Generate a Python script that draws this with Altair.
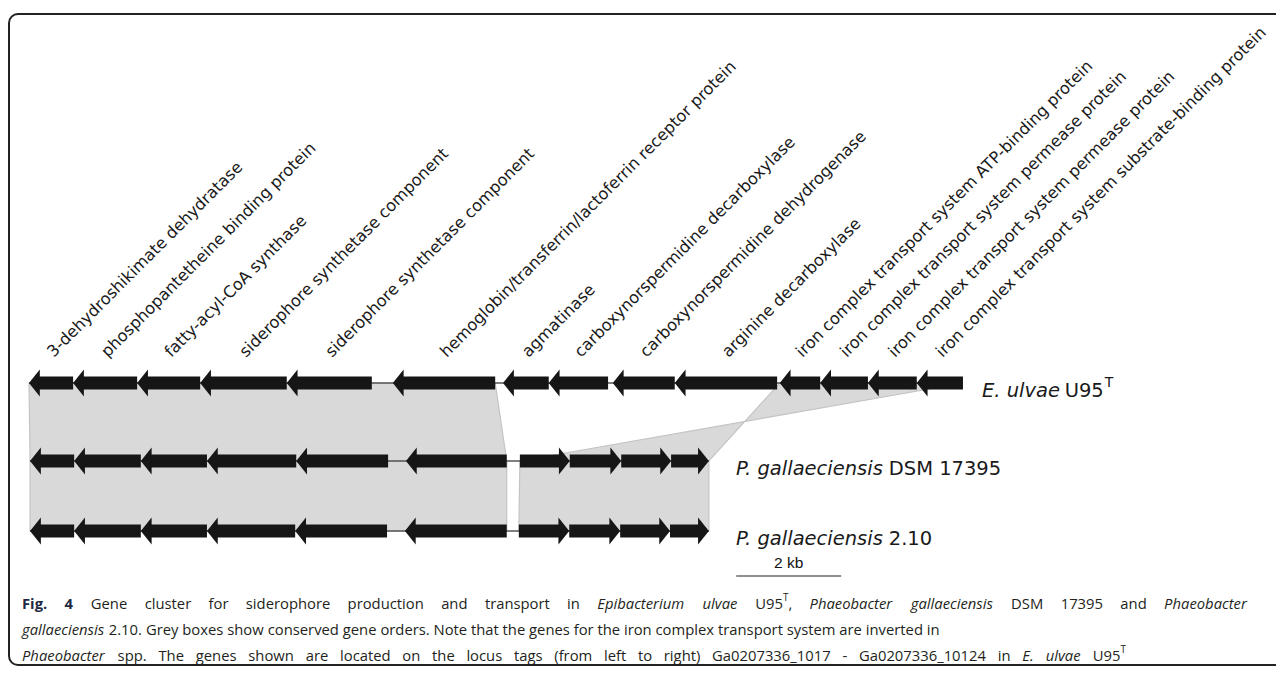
import altair as alt
import pandas as pd

# ---------------- data (kb) ----------------
gene_names = [
    "3-dehydroshikimate dehydratase",
    "phosphopantetheine binding protein",
    "fatty-acyl-CoA synthase",
    "siderophore synthetase component",
    "siderophore synthetase component",
    "hemoglobin/transferrin/lactoferrin receptor protein",
    "agmatinase",
    "carboxynorspermidine decarboxylase",
    "carboxynorspermidine dehydrogenase",
    "arginine decarboxylase",
    "iron complex transport system ATP-binding protein",
    "iron complex transport system permease protein",
    "iron complex transport system permease protein",
    "iron complex transport system substrate-binding protein",
]
r1_start = [0.00, 0.84, 2.06, 3.26, 4.91, 6.93, 9.03, 9.90, 11.12, 12.30, 14.30, 15.07, 15.98, 16.91]
r1_end = [0.84, 2.06, 3.26, 4.91, 6.53, 8.88, 9.90, 11.03, 12.30, 14.25, 15.07, 15.98, 16.91, 17.79]
r1_strand = ["-"] * 14
r2_start = [0.02, 0.86, 2.13, 3.39, 5.09, 7.18, 9.35, 10.30, 11.28, 12.23]
r2_end = [0.86, 2.13, 3.39, 5.09, 6.84, 9.10, 10.30, 11.28, 12.23, 12.95]
r2_strand = ["-"] * 6 + ["+"] * 4
r3_start = [0.02, 0.86, 2.13, 3.39, 5.07, 7.16, 9.33, 10.29, 11.26, 12.21]
r3_end = [0.86, 2.13, 3.39, 5.07, 6.82, 9.10, 10.29, 11.26, 12.21, 12.95]
r3_strand = ["-"] * 6 + ["+"] * 4

# conserved blocks: (band, track, from, to)
band_ids = ["A", "A", "B", "B", "C", "C", "D", "D"]
band_track = [0, 1, 0, 1, 1, 2, 1, 2]
band_from = [0.00, 0.02, 14.30, 12.95, 0.02, 0.02, 9.35, 9.33]
band_to = [8.88, 9.10, 17.79, 9.35, 9.10, 9.10, 12.95, 12.95]

scalebar_start = 13.47
scalebar_len = 2.0

# ---------------- layout ----------------
W, H = 1268, 658
track_y = [375, 453, 523]
px_per_kb = 52.5
x0_px = 21
xdom = [-x0_px / px_per_kb, (W - x0_px) / px_per_kb]
xs = alt.Scale(domain=xdom, nice=False, zero=False)
ys = alt.Scale(domain=[H, 0], nice=False, zero=False)

rows = []
for t, (st, en, sd) in enumerate([(r1_start, r1_end, r1_strand),
                                  (r2_start, r2_end, r2_strand),
                                  (r3_start, r3_end, r3_strand)]):
    for i, (a, b, s) in enumerate(zip(st, en, sd)):
        rows.append(dict(track=t, idx=i, start=a, end=b, strand=s, y=track_y[t]))
genes = pd.DataFrame(rows)
head = 0.15
genes["tip"] = genes.apply(lambda r: r.start if r.strand == "-" else r.end, axis=1)
genes["b0"] = genes.apply(lambda r: r.start + head if r.strand == "-" else r.start, axis=1)
genes["b1"] = genes.apply(lambda r: r.end if r.strand == "-" else r.end - head, axis=1)

lines = genes.groupby("track").agg(x=("start", "min"), x2=("end", "max"), y=("y", "first")).reset_index()

# band polygons (quadrilaterals, one per band)
poly = []
for b in sorted(set(band_ids)):
    pts = [(t, f, e) for bi, t, f, e in zip(band_ids, band_track, band_from, band_to) if bi == b]
    (t1, f1, e1), (t2, f2, e2) = pts
    seq = [(f1, track_y[t1]), (e1, track_y[t1]), (e2, track_y[t2]), (f2, track_y[t2]), (f1, track_y[t1])]
    for k, (px, py) in enumerate(seq):
        poly.append(dict(band=b, k=k, x=px, y=py))
poly = pd.DataFrame(poly)

lab = genes[genes.track == 0].copy()
lab["name"] = gene_names
lab["lx"] = (lab["start"] + lab["end"]) / 2 + 0.05
lab["ly"] = track_y[0] - 25

GENE_COL = "#161616"

frame = alt.Chart(pd.DataFrame({"a": [0]})).mark_rect(
    fillOpacity=0, stroke="#222222", strokeWidth=2, cornerRadius=9
).encode(x=alt.value(1), x2=alt.value(1320), y=alt.value(6), y2=alt.value(657))

band_layer = alt.Chart(poly).mark_line(
    fill="#d9d9d9", stroke="#c4c4c4", strokeWidth=1.2, interpolate="linear-closed"
).encode(
    x=alt.X("x:Q", scale=xs, axis=None),
    y=alt.Y("y:Q", scale=ys, axis=None),
    detail="band:N",
    order=alt.Order("k:Q"),
)

line_layer = alt.Chart(lines).mark_rule(color="#555555", strokeWidth=1.3).encode(
    x=alt.X("x:Q", scale=xs, axis=None), x2="x2:Q", y=alt.Y("y:Q", scale=ys, axis=None)
)

body_layer = alt.Chart(genes).mark_rule(color=GENE_COL, strokeWidth=13, strokeCap="butt").encode(
    x=alt.X("b0:Q", scale=xs, axis=None), x2="b1:Q", y=alt.Y("y:Q", scale=ys, axis=None)
)

left_head = alt.Chart(genes[genes.strand == "-"]).mark_point(
    shape="M0,0L0.8,-1L0.8,1Z", size=729, filled=True, fill=GENE_COL, opacity=1, strokeWidth=0
).encode(x=alt.X("tip:Q", scale=xs, axis=None), y=alt.Y("y:Q", scale=ys, axis=None))

right_head = alt.Chart(genes[genes.strand == "+"]).mark_point(
    shape="M0,0L-0.8,-1L-0.8,1Z", size=729, filled=True, fill=GENE_COL, opacity=1, strokeWidth=0
).encode(x=alt.X("tip:Q", scale=xs, axis=None), y=alt.Y("y:Q", scale=ys, axis=None))

label_layer = alt.Chart(lab).mark_text(
    angle=315, align="left", baseline="alphabetic", font="DejaVu Sans", fontSize=16.2, color="#1a1a1a"
).encode(x=alt.X("lx:Q", scale=xs, axis=None), y=alt.Y("ly:Q", scale=ys, axis=None), text="name:N")

# scale bar
sb = pd.DataFrame(dict(x=[scalebar_start], x2=[scalebar_start + scalebar_len],
                       xm=[scalebar_start + scalebar_len / 2], y=[568], ty=[560], t=["2 kb"]))
sb_rule = alt.Chart(sb).mark_rule(color="#222222", strokeWidth=1.2).encode(
    x=alt.X("x:Q", scale=xs, axis=None), x2="x2:Q", y=alt.Y("y:Q", scale=ys, axis=None))
sb_text = alt.Chart(sb).mark_text(font="Liberation Sans", fontSize=15.5, color="#111111", baseline="alphabetic").encode(
    x=alt.X("xm:Q", scale=xs, axis=None), y=alt.Y("ty:Q", scale=ys, axis=None), text="t:N")

# ---------------- text runs ----------------
# approximate advance widths (em) for Open Sans / DejaVu Sans
OS = {" ": .26, "a": .556, "b": .613, "c": .48, "d": .613, "e": .561, "f": .336, "g": .546, "h": .614,
      "i": .252, "j": .252, "k": .529, "l": .252, "m": .931, "n": .614, "o": .6, "p": .613, "q": .613,
      "r": .408, "s": .477, "t": .353, "u": .614, "v": .5, "w": .786, "x": .523, "y": .5, "z": .468,
      "A": .633, "B": .648, "C": .631, "D": .729, "E": .556, "F": .516, "G": .728, "H": .738, "I": .279,
      "J": .267, "K": .614, "L": .519, "M": .903, "N": .754, "O": .779, "P": .602, "Q": .779, "R": .618,
      "S": .549, "T": .553, "U": .728, "V": .592, "W": .934, "X": .577, "Y": .56, "Z": .571,
      ".": .266, ",": .25, "-": .322, "_": .442, "(": .296, ")": .296, "/": .371}
DV = {" ": .318, "a": .613, "c": .55, "e": .615, "g": .635, "i": .278, "l": .278, "n": .634, "s": .521,
      "u": .634, "v": .592, "E": .632, "P": .603, "U": .732, "D": .77, "S": .635, "M": .863, "T": .611,
      ".": .318}


def w_os(s, size, fac=1.0):
    return sum(OS.get(ch, .572) for ch in s) * size * fac


def w_dv(s, size):
    return sum(DV.get(ch, .636) for ch in s) * size


CAP = 14.8
style_fac = {"b": 1.07, "c": 1.0, "ci": 0.96, "csup": 1.0}
style_size = {"b": CAP, "c": CAP, "ci": CAP, "csup": 10}

cap_lines = [
    [("Fig.", "b", 0), ("4", "b", 1), ("Gene cluster for siderophore production and transport in", "c", 1),
     ("Epibacterium ulvae", "ci", 1), ("U95", "c", 1), ("T", "csup", 0), (",", "c", 0),
     ("Phaeobacter gallaeciensis", "ci", 1), ("DSM 17395 and", "c", 1), ("Phaeobacter", "ci", 1)],
    [("gallaeciensis", "ci", 0),
     ("2.10. Grey boxes show conserved gene orders. Note that the genes for the iron complex transport system are inverted in", "c", 1)],
    [("Phaeobacter", "ci", 0),
     ("spp. The genes shown are located on the locus tags (from left to right) Ga0207336_1017 - Ga0207336_10124 in", "c", 1),
     ("E. ulvae", "ci", 1), ("U95", "c", 1), ("T", "csup", 0)],
]
cap_base = [601, 627, 653]
cap_left = 14
cap_target = [1240, None, 1118]  # stretched lines (chart px of right end)

seg_rows = []
for li, toks in enumerate(cap_lines):
    words = []
    for text, st, sp in toks:
        parts = text.split(" ")
        for j, p in enumerate(parts):
            words.append((p, st, sp if j == 0 else 1))
    widths = [w_os(p, style_size[st], style_fac[st]) for p, st, sp in words]
    nsp = sum(sp for _, _, sp in words)
    spw = OS[" "] * CAP
    natural = sum(widths) + nsp * spw
    extra = 0.0
    if cap_target[li] is not None and nsp:
        extra = max(0.0, (cap_target[li] - cap_left - natural) / nsp)
    x = cap_left
    for (p, st, sp), w in zip(words, widths):
        if sp:
            x += spw + extra
        y = cap_base[li] - (8 if st == "csup" else 0)
        seg_rows.append(dict(t=p, x=x, y=y, s=st))
        x += w

# species labels
SP = 19.5
sp_rows = []
for (it, nm, x, y) in [("E. ulvae", "U95", 974, 389),
                       ("P. gallaeciensis", "DSM 17395", 728, 467),
                       ("P. gallaeciensis", "2.10", 728, 537)]:
    sp_rows.append(dict(t=it, x=x, y=y, s="it"))
    x2 = x + w_dv(it, SP) * 0.98 + DV[" "] * SP
    sp_rows.append(dict(t=nm, x=x2, y=y, s="n"))
    if nm == "U95":
        sp_rows.append(dict(t="T", x=x2 + w_dv(nm, SP) + 1, y=y - 10, s="sup"))

segs = pd.DataFrame(seg_rows + sp_rows)

styles = {
    "it": dict(font="DejaVu Sans", fontSize=SP, fontStyle="italic", color="#1a1a1a"),
    "n": dict(font="DejaVu Sans", fontSize=SP, color="#1a1a1a"),
    "sup": dict(font="DejaVu Sans", fontSize=14, color="#1a1a1a"),
    "b": dict(font="Open Sans", fontSize=CAP, fontWeight="bold", color="#1e2a44"),
    "c": dict(font="Open Sans", fontSize=CAP, color="#231f20"),
    "ci": dict(font="Open Sans", fontSize=CAP, fontStyle="italic", color="#231f20"),
    "csup": dict(font="Open Sans", fontSize=10, color="#231f20"),
}
text_layers = []
for k, st in styles.items():
    d = segs[segs.s == k]
    if len(d) == 0:
        continue
    text_layers.append(
        alt.Chart(d).mark_text(align="left", baseline="alphabetic", **st).encode(
            x=alt.X("x:Q", scale=None), y=alt.Y("y:Q", scale=None), text="t:N")
    )

chart = alt.layer(
    frame, band_layer, line_layer, body_layer, left_head, right_head, label_layer,
    sb_rule, sb_text, *text_layers
).properties(width=W, height=H, padding=0, autosize=alt.AutoSizeParams(type="none")).configure_view(stroke=None)

chart.save("out.html", embed_options={"renderer": "svg", "actions": False})
